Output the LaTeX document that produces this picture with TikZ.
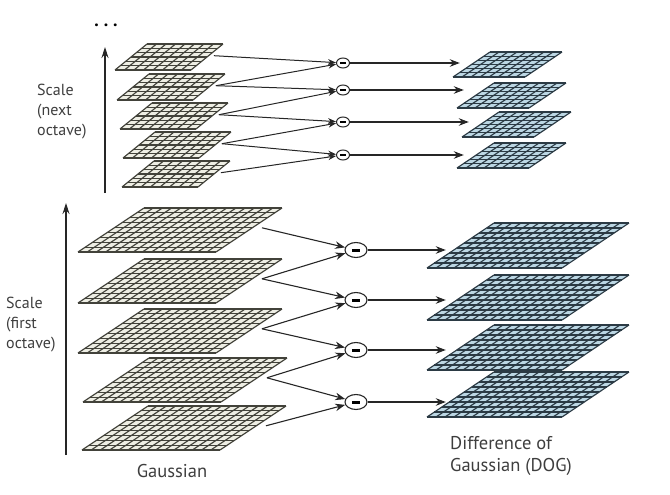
\documentclass[tikz,border=0pt]{standalone}
\usepackage{fontspec}
\setmainfont{PT Sans}
\usetikzlibrary{arrows.meta,shapes.geometric}
\definecolor{gline}{HTML}{42423A}
\definecolor{gfill}{HTML}{EEEEE4}
\definecolor{dline}{HTML}{2B3A44}
\definecolor{dfill}{HTML}{BCD7E4}
\definecolor{txt}{HTML}{3E3E3E}
\tikzset{
  ggrid/.style={draw=gline,line width=1.15pt},
  dgrid/.style={draw=dline,line width=1.15pt},
  conn/.style={draw=black!85,line width=1.1pt,-{Stealth[length=10pt,width=7.5pt]}},
  tconn/.style={draw=black!85,line width=1pt,-{Stealth[length=8pt,width=6pt]}},
  axis/.style={draw=black!85,line width=1.1pt,-{Stealth[length=11pt,width=7pt]}},
  bminus/.style={ellipse,draw=black!85,line width=1.1pt,fill=white,minimum width=22pt,minimum height=15pt,inner sep=0pt},
  tminus/.style={ellipse,draw=black!85,line width=1pt,fill=white,minimum width=13pt,minimum height=10pt,inner sep=0pt},
  lbl/.style={text=txt,font=\fontsize{16}{20}\selectfont,inner sep=0pt,align=left},
  biglbl/.style={text=txt,font=\fontsize{18.5}{22}\selectfont,inner sep=0pt,align=left}
}
% #1 name, #2 bx, #3 by (bottom-left), #4 width, #5 height, #6 skew, #7 cols, #8 rows, #9 kind (g/d)
\newcommand\pgrid[9]{%
  \fill[#9fill] (#2,#3) -- ++(#4,0) -- ++(#6,-#5) -- ++(-#4,0) -- cycle;
  \foreach \i in {0,...,#7} \draw[#9grid] ({#2+\i*#4/#7},#3) -- ++(#6,-#5);
  \foreach \j in {0,...,#8} \draw[#9grid] ({#2+\j*#6/#8},{#3-\j*#5/#8}) -- ++(#4,0);
  \coordinate (#1-r) at ({#2+#4+0.55*#6+0.07*#4},{#3-0.55*#5});
  \coordinate (#1-l) at ({#2+0.4*#6-8},{#3-0.4*#5});
}
\begin{document}
\begin{tikzpicture}[x=1pt,y=-1pt]
\useasboundingbox (0,0) rectangle (670,495);
% ---------- next octave ----------
\pgrid{ta1}{115}{70}{76}{26}{32}{8}{6}{g}
\pgrid{ta2}{117}{100}{76}{26}{32}{8}{6}{g}
\pgrid{ta3}{120}{129}{76}{26}{32}{8}{6}{g}
\pgrid{ta4}{123}{158}{76}{26}{32}{8}{6}{g}
\pgrid{ta5}{122}{187}{76}{26}{32}{8}{6}{g}
\pgrid{td1}{453}{77}{72}{25}{37}{8}{6}{d}
\pgrid{td2}{457}{108}{72}{25}{37}{8}{6}{d}
\pgrid{td3}{462}{137}{72}{25}{37}{8}{6}{d}
\pgrid{td4}{457}{168}{72}{25}{37}{8}{6}{d}
\node[tminus] (tc1) at (343,63) {\rule{6pt}{2.2pt}};
\node[tminus] (tc2) at (343,90) {\rule{6pt}{2.2pt}};
\node[tminus] (tc3) at (343,122) {\rule{6pt}{2.2pt}};
\node[tminus] (tc4) at (343,155) {\rule{6pt}{2.2pt}};
\draw[tconn] (ta1-r) -- (tc1);
\draw[tconn] (ta2-r) -- (tc1);
\draw[tconn] (ta2-r) -- (tc2);
\draw[tconn] (ta3-r) -- (tc2);
\draw[tconn] (ta3-r) -- (tc3);
\draw[tconn] (ta4-r) -- (tc3);
\draw[tconn] (ta4-r) -- (tc4);
\draw[tconn] (ta5-r) -- (tc4);
\draw[conn] (tc1) -- (tc1 -| td1-l);
\draw[conn] (tc2) -- (tc2 -| td2-l);
\draw[conn] (tc3) -- (tc3 -| td3-l);
\draw[conn] (tc4) -- (tc4 -| td4-l);
% ---------- first octave ----------
\pgrid{ba1}{78}{252}{138}{44}{66}{15}{9}{g}
\pgrid{ba2}{78}{303}{138}{44}{66}{15}{9}{g}
\pgrid{ba3}{78}{353}{138}{44}{66}{15}{9}{g}
\pgrid{ba4}{83}{402}{138}{44}{66}{15}{9}{g}
\pgrid{ba5}{82}{450}{138}{44}{66}{15}{9}{g}
\pgrid{bd1}{427}{268}{135}{45}{67}{15}{9}{d}
\pgrid{bd2}{427}{320}{135}{45}{67}{15}{9}{d}
\pgrid{bd3}{427}{370}{135}{45}{67}{15}{9}{d}
\pgrid{bd4}{427}{417}{135}{45}{67}{15}{9}{d}
\node[bminus] (bc1) at (356,250) {\rule{8pt}{3pt}};
\node[bminus] (bc2) at (356,300) {\rule{8pt}{3pt}};
\node[bminus] (bc3) at (356,350) {\rule{8pt}{3pt}};
\node[bminus] (bc4) at (356,402) {\rule{8pt}{3pt}};
\draw[conn] (ba1-r) -- (bc1);
\draw[conn] (ba2-r) -- (bc1);
\draw[conn] (ba2-r) -- (bc2);
\draw[conn] (ba3-r) -- (bc2);
\draw[conn] (ba3-r) -- (bc3);
\draw[conn] (ba4-r) -- (bc3);
\draw[conn] (ba4-r) -- (bc4);
\draw[conn] (ba5-r) -- (bc4);
\draw[conn] (bc1) -- (bc1 -| bd1-l);
\draw[conn] (bc2) -- (bc2 -| bd2-l);
\draw[conn] (bc3) -- (bc3 -| bd3-l);
\draw[conn] (bc4) -- (bc4 -| bd4-l);
% ---------- axes and labels ----------
\coordinate (tax0) at (105,193);
\coordinate (tax1) at (105,47);
\coordinate (bax0) at (66,455);
\coordinate (bax1) at (66,203);
\draw[axis] (tax0) -- (tax1);
\draw[axis] (bax0) -- (bax1);
\node[lbl,font=\bfseries\fontsize{18}{18}\selectfont,text=black] (dots) at (106,25) {.\hspace{5pt}.\hspace{5pt}.};
\node[lbl,anchor=north west] (lnext) at (37,84) {Scale\\(next\\octave)};
\node[lbl,anchor=north west] (lfirst) at (6,297) {Scale\\(first\\octave)};
\node[biglbl,anchor=north] (lgauss) at (172,464) {Gaussian};
\node[biglbl,anchor=north west] (ldog) at (450,436) {Difference of\\Gaussian (DOG)};
\end{tikzpicture}
\end{document}
